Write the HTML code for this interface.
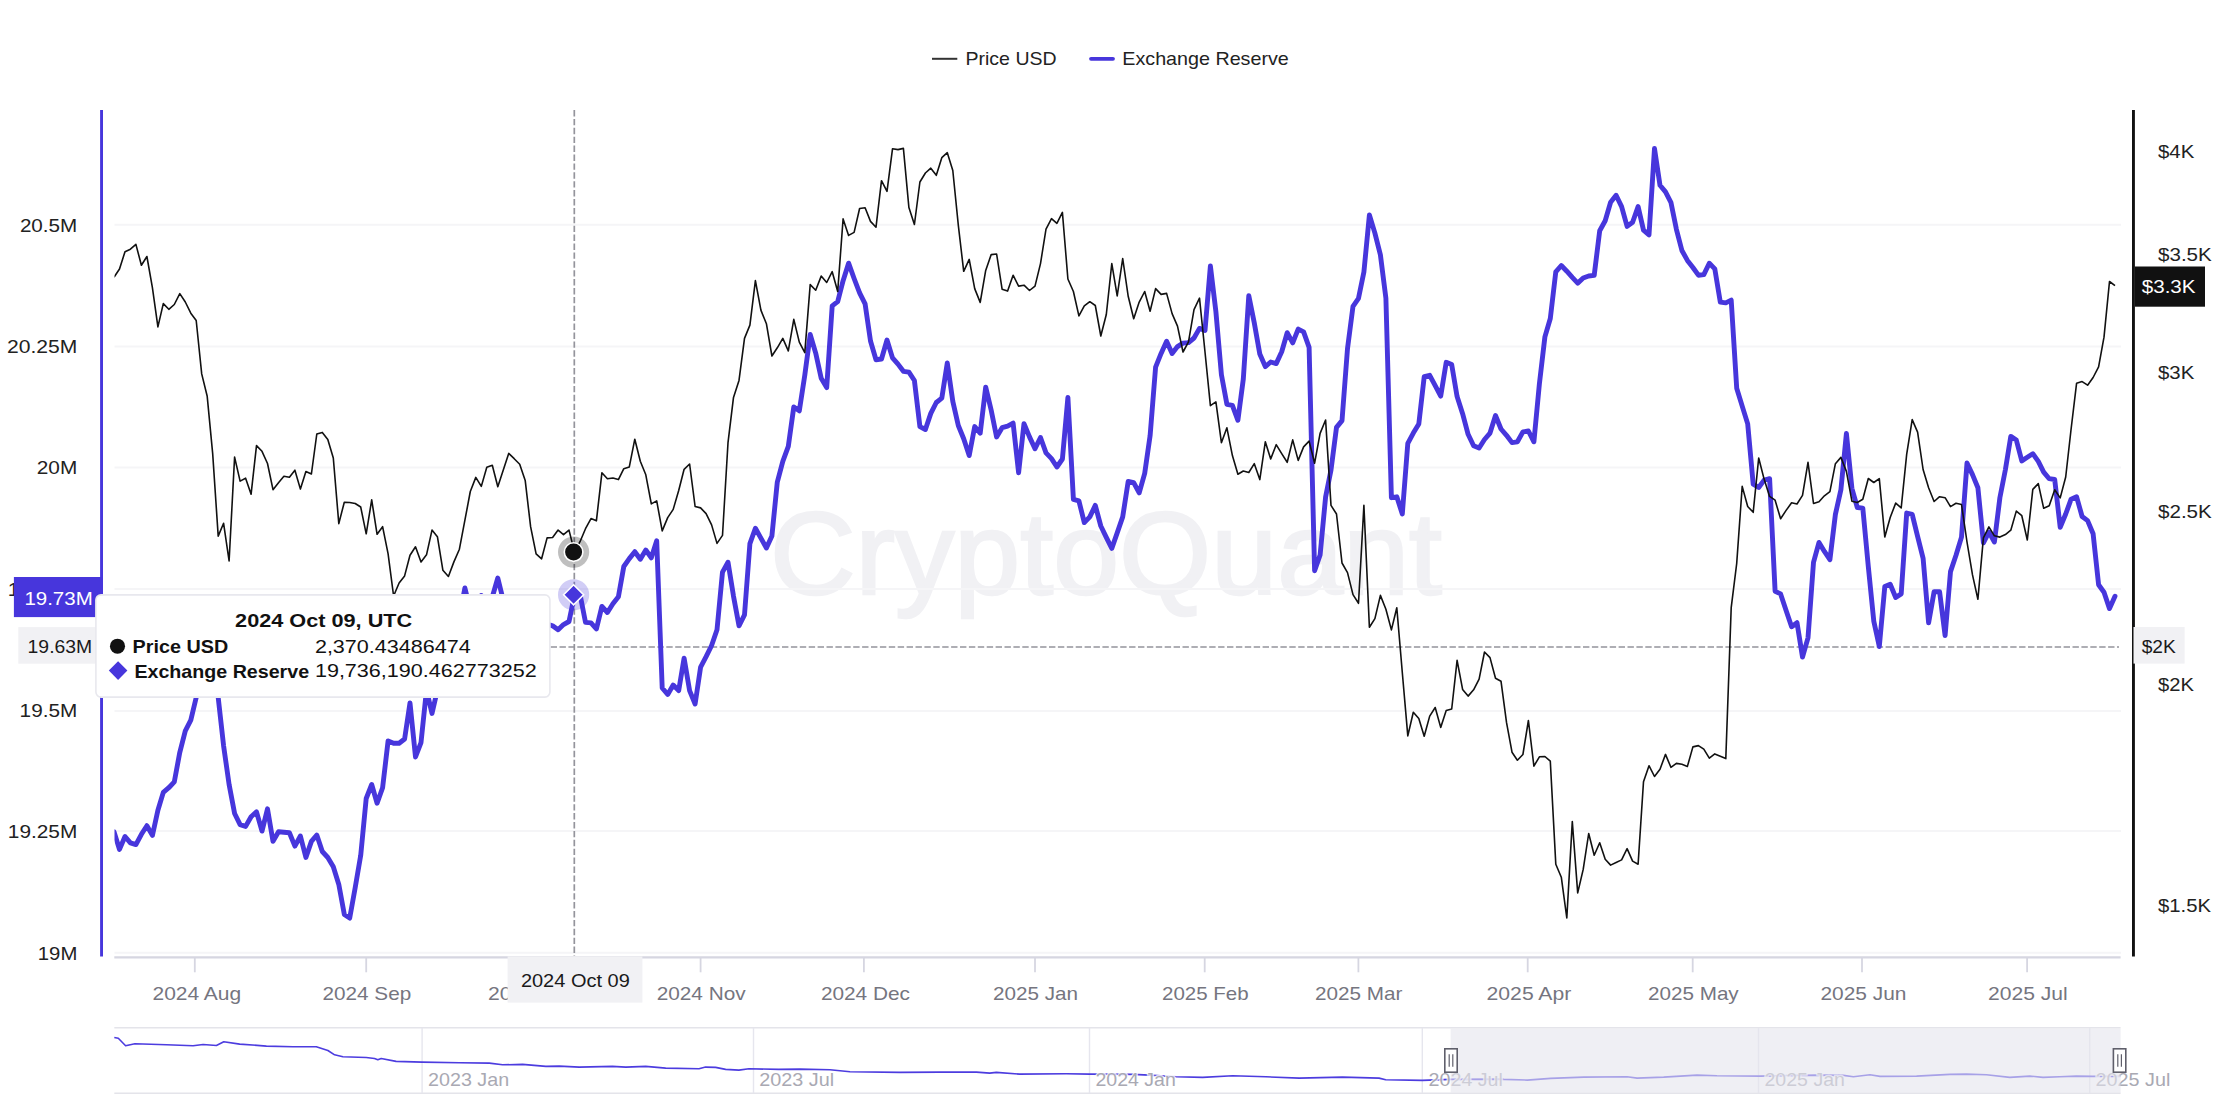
<!DOCTYPE html>
<html><head><meta charset="utf-8"><title>Exchange Reserve</title>
<style>
html,body{margin:0;padding:0;background:#fff;}
body{width:2224px;height:1094px;overflow:hidden;font-family:"Liberation Sans",sans-serif;}
svg{display:block;font-family:"Liberation Sans",sans-serif;}
</style></head><body>
<svg width="2224" height="1094" viewBox="0 0 2224 1094">
<defs>
<clipPath id="plot"><rect x="114.5" y="100" width="2006.5" height="860"/></clipPath>
</defs>
<rect width="2224" height="1094" fill="#fff"/>

<text x="770" y="593.5" font-size="116" fill="#f1f1f4" stroke="#f1f1f4" stroke-width="2.5" textLength="672" lengthAdjust="spacingAndGlyphs">CryptoQuant</text>
<line x1="114.5" x2="2121" y1="224.7" y2="224.7" stroke="#f5f5f7" stroke-width="2"/>
<line x1="114.5" x2="2121" y1="346.5" y2="346.5" stroke="#f5f5f7" stroke-width="2"/>
<line x1="114.5" x2="2121" y1="467.5" y2="467.5" stroke="#f5f5f7" stroke-width="2"/>
<line x1="114.5" x2="2121" y1="589" y2="589" stroke="#f5f5f7" stroke-width="2"/>
<line x1="114.5" x2="2121" y1="711" y2="711" stroke="#f5f5f7" stroke-width="2"/>
<line x1="114.5" x2="2121" y1="831" y2="831" stroke="#f5f5f7" stroke-width="2"/>
<line x1="114.5" x2="2121" y1="952.7" y2="952.7" stroke="#f5f5f7" stroke-width="2"/>
<line x1="114.3" x2="2120.6" y1="957.3" y2="957.3" stroke="#d6d6e1" stroke-width="2.2"/>
<line x1="194.8" x2="194.8" y1="957.3" y2="972.3" stroke="#d6d6e1" stroke-width="1.8"/>
<line x1="366.2" x2="366.2" y1="957.3" y2="972.3" stroke="#d6d6e1" stroke-width="1.8"/>
<line x1="530.8" x2="530.8" y1="957.3" y2="972.3" stroke="#d6d6e1" stroke-width="1.8"/>
<line x1="700.6" x2="700.6" y1="957.3" y2="972.3" stroke="#d6d6e1" stroke-width="1.8"/>
<line x1="863.9" x2="863.9" y1="957.3" y2="972.3" stroke="#d6d6e1" stroke-width="1.8"/>
<line x1="1035" x2="1035" y1="957.3" y2="972.3" stroke="#d6d6e1" stroke-width="1.8"/>
<line x1="1204.7" x2="1204.7" y1="957.3" y2="972.3" stroke="#d6d6e1" stroke-width="1.8"/>
<line x1="1358.4" x2="1358.4" y1="957.3" y2="972.3" stroke="#d6d6e1" stroke-width="1.8"/>
<line x1="1527.7" x2="1527.7" y1="957.3" y2="972.3" stroke="#d6d6e1" stroke-width="1.8"/>
<line x1="1692.7" x2="1692.7" y1="957.3" y2="972.3" stroke="#d6d6e1" stroke-width="1.8"/>
<line x1="1862" x2="1862" y1="957.3" y2="972.3" stroke="#d6d6e1" stroke-width="1.8"/>
<line x1="2027.1" x2="2027.1" y1="957.3" y2="972.3" stroke="#d6d6e1" stroke-width="1.8"/>
<line x1="932" x2="957.3" y1="58.8" y2="58.8" stroke="#333" stroke-width="2"/>
<text x="965.5" y="65" font-size="19.24" fill="#222" font-weight="normal" textLength="91.1" lengthAdjust="spacingAndGlyphs">Price USD</text>
<line x1="1091" x2="1113" y1="58.8" y2="58.8" stroke="#4736dc" stroke-width="3.8" stroke-linecap="round"/>
<text x="1122.3" y="65" font-size="19.24" fill="#222" font-weight="normal" textLength="166.5" lengthAdjust="spacingAndGlyphs">Exchange Reserve</text>
<text x="19.9" y="231.8" font-size="19.24" fill="#222" font-weight="normal" textLength="57.4" lengthAdjust="spacingAndGlyphs">20.5M</text>
<text x="7.0" y="353.3" font-size="19.24" fill="#222" font-weight="normal" textLength="70.3" lengthAdjust="spacingAndGlyphs">20.25M</text>
<text x="36.8" y="474.4" font-size="19.24" fill="#222" font-weight="normal" textLength="40.5" lengthAdjust="spacingAndGlyphs">20M</text>
<text x="7.8" y="595.8" font-size="19.24" fill="#222" font-weight="normal" textLength="69.5" lengthAdjust="spacingAndGlyphs">19.75M</text>
<text x="19.6" y="717.4" font-size="19.24" fill="#222" font-weight="normal" textLength="57.7" lengthAdjust="spacingAndGlyphs">19.5M</text>
<text x="7.8" y="838.2" font-size="19.24" fill="#222" font-weight="normal" textLength="69.5" lengthAdjust="spacingAndGlyphs">19.25M</text>
<text x="37.8" y="959.8" font-size="19.24" fill="#222" font-weight="normal" textLength="39.5" lengthAdjust="spacingAndGlyphs">19M</text>
<text x="2158.0" y="158.0" font-size="19.24" fill="#222" font-weight="normal" textLength="36.3" lengthAdjust="spacingAndGlyphs">$4K</text>
<text x="2158.0" y="261.2" font-size="19.24" fill="#222" font-weight="normal" textLength="53.8" lengthAdjust="spacingAndGlyphs">$3.5K</text>
<text x="2158.0" y="379.4" font-size="19.24" fill="#222" font-weight="normal" textLength="36.3" lengthAdjust="spacingAndGlyphs">$3K</text>
<text x="2158.0" y="518.4" font-size="19.24" fill="#222" font-weight="normal" textLength="53.8" lengthAdjust="spacingAndGlyphs">$2.5K</text>
<text x="2158.0" y="690.8" font-size="19.24" fill="#222" font-weight="normal" textLength="35.9" lengthAdjust="spacingAndGlyphs">$2K</text>
<text x="2158.0" y="912.0" font-size="19.24" fill="#222" font-weight="normal" textLength="53.0" lengthAdjust="spacingAndGlyphs">$1.5K</text>
<text x="152.5" y="1000.4" font-size="19.24" fill="#75757f" font-weight="normal" textLength="88.7" lengthAdjust="spacingAndGlyphs">2024 Aug</text>
<text x="322.6" y="1000.4" font-size="19.24" fill="#75757f" font-weight="normal" textLength="88.6" lengthAdjust="spacingAndGlyphs">2024 Sep</text>
<text x="487.9" y="1000.4" font-size="19.24" fill="#75757f" font-weight="normal" textLength="85.9" lengthAdjust="spacingAndGlyphs">2024 Oct</text>
<text x="656.7" y="1000.4" font-size="19.24" fill="#75757f" font-weight="normal" textLength="89.0" lengthAdjust="spacingAndGlyphs">2024 Nov</text>
<text x="820.9" y="1000.4" font-size="19.24" fill="#75757f" font-weight="normal" textLength="89.1" lengthAdjust="spacingAndGlyphs">2024 Dec</text>
<text x="993.0" y="1000.4" font-size="19.24" fill="#75757f" font-weight="normal" textLength="85.0" lengthAdjust="spacingAndGlyphs">2025 Jan</text>
<text x="1162.0" y="1000.4" font-size="19.24" fill="#75757f" font-weight="normal" textLength="86.7" lengthAdjust="spacingAndGlyphs">2025 Feb</text>
<text x="1315.1" y="1000.4" font-size="19.24" fill="#75757f" font-weight="normal" textLength="87.4" lengthAdjust="spacingAndGlyphs">2025 Mar</text>
<text x="1486.6" y="1000.4" font-size="19.24" fill="#75757f" font-weight="normal" textLength="84.7" lengthAdjust="spacingAndGlyphs">2025 Apr</text>
<text x="1648.0" y="1000.4" font-size="19.24" fill="#75757f" font-weight="normal" textLength="90.7" lengthAdjust="spacingAndGlyphs">2025 May</text>
<text x="1820.4" y="1000.4" font-size="19.24" fill="#75757f" font-weight="normal" textLength="86.0" lengthAdjust="spacingAndGlyphs">2025 Jun</text>
<text x="1988.1" y="1000.4" font-size="19.24" fill="#75757f" font-weight="normal" textLength="79.7" lengthAdjust="spacingAndGlyphs">2025 Jul</text>
<line x1="574.3" x2="574.3" y1="110" y2="956" stroke="#94949c" stroke-width="1.7" stroke-dasharray="6.4,2.5"/>
<line x1="114.5" x2="2119" y1="647" y2="647" stroke="#94949c" stroke-width="1.7" stroke-dasharray="6.4,2.5"/>
<g clip-path="url(#plot)"><polyline points="114.0,831.8 119.5,849.4 125.0,836.5 130.4,842.9 135.9,844.6 141.4,834.3 146.9,825.7 152.4,835.4 157.9,810.3 163.3,792.4 168.8,787.7 174.3,781.9 179.8,752.3 185.3,730.8 190.8,720.1 196.2,697.5 201.7,672.0 207.2,640.0 212.7,668.0 218.2,697.5 223.6,745.8 229.1,784.5 234.6,813.5 240.1,824.7 245.6,826.4 251.1,816.7 256.5,811.8 262.0,831.1 267.5,808.8 273.0,841.4 278.5,831.8 283.9,832.2 289.4,832.8 294.9,846.1 300.4,836.0 305.9,857.5 311.4,841.4 316.8,835.0 322.3,851.5 327.8,857.5 333.3,866.8 338.8,884.4 344.3,914.4 349.7,918.1 355.2,887.6 360.7,855.4 366.2,798.5 371.7,784.5 377.1,803.2 382.6,787.7 388.1,740.9 393.6,743.3 399.1,743.3 404.6,739.0 410.0,702.9 415.5,757.0 421.0,742.6 426.5,690.0 432.0,713.4 437.4,690.0 442.9,660.0 448.4,640.0 453.9,628.0 459.4,617.0 464.9,588.0 470.3,610.0 475.8,606.0 481.3,595.5 486.8,607.0 492.3,597.0 497.8,578.0 503.2,600.0 508.7,615.0 514.2,622.0 519.7,612.0 525.2,625.0 530.6,618.0 536.1,628.0 541.6,620.0 547.1,624.0 552.6,625.8 558.1,629.8 563.5,624.6 569.0,621.5 574.5,595.1 580.0,594.2 585.5,622.4 591.0,622.9 596.4,629.0 601.9,606.4 607.4,612.5 612.9,603.8 618.4,596.8 623.8,566.5 629.3,558.6 634.8,551.7 640.3,559.2 645.8,550.0 651.3,557.8 656.7,540.8 662.2,688.0 667.7,694.4 673.2,685.0 678.7,690.6 684.1,658.1 689.6,690.6 695.1,704.0 700.6,667.2 706.1,656.7 711.6,645.5 717.0,629.8 722.5,572.1 728.0,562.2 733.5,596.2 739.0,625.8 744.5,614.9 749.9,543.6 755.4,528.2 760.9,538.1 766.4,548.0 771.9,535.9 777.3,482.1 782.8,461.3 788.3,446.4 793.8,406.9 799.3,410.8 804.8,375.1 810.2,334.5 815.7,353.1 821.2,378.3 826.7,387.6 832.2,305.9 837.7,301.6 843.1,280.7 848.6,263.2 854.1,278.5 859.6,292.8 865.1,303.8 870.5,341.0 876.0,359.7 881.5,359.0 887.0,340.0 892.5,357.9 898.0,364.1 903.4,371.3 908.9,372.2 914.4,380.5 919.9,426.6 925.4,429.5 930.8,413.4 936.3,402.5 941.8,398.1 947.3,363.0 952.8,401.4 958.3,425.5 963.7,438.7 969.2,455.6 974.7,426.6 980.2,433.2 985.7,387.1 991.2,410.2 996.6,436.9 1002.1,427.7 1007.6,426.1 1013.1,423.1 1018.6,472.7 1024.0,423.6 1029.5,436.9 1035.0,448.7 1040.5,437.5 1046.0,452.9 1051.5,458.6 1056.9,467.0 1062.4,459.0 1067.9,397.5 1073.4,499.3 1078.9,500.9 1084.3,522.6 1089.8,516.9 1095.3,505.4 1100.8,526.0 1106.3,537.4 1111.8,548.4 1117.2,532.9 1122.7,516.9 1128.2,481.4 1133.7,482.6 1139.2,492.9 1144.7,473.4 1150.1,435.7 1155.6,367.1 1161.1,353.4 1166.6,341.3 1172.1,353.4 1177.5,346.6 1183.0,343.1 1188.5,342.6 1194.0,338.0 1199.5,328.4 1205.0,330.5 1210.4,266.0 1215.9,311.7 1221.4,374.6 1226.9,404.3 1232.4,405.4 1237.9,420.3 1243.3,379.1 1248.8,295.7 1254.3,323.1 1259.8,354.0 1265.3,366.6 1270.7,362.0 1276.2,363.6 1281.7,351.7 1287.2,332.7 1292.7,342.9 1298.2,329.1 1303.6,331.9 1309.1,347.4 1314.6,570.7 1320.1,555.0 1325.6,497.0 1331.0,470.0 1336.5,427.4 1342.0,420.6 1347.5,348.6 1353.0,306.3 1358.5,298.3 1363.9,272.0 1369.4,214.9 1374.9,233.1 1380.4,254.9 1385.9,298.3 1391.4,497.7 1396.8,496.8 1402.3,514.0 1407.8,443.4 1413.3,433.1 1418.8,424.0 1424.2,376.7 1429.7,375.3 1435.2,385.6 1440.7,396.1 1446.2,362.3 1451.7,364.6 1457.1,396.6 1462.6,413.7 1468.1,434.3 1473.6,445.7 1479.1,448.0 1484.5,439.5 1490.0,433.1 1495.5,415.5 1501.0,429.0 1506.5,435.3 1512.0,442.6 1517.4,441.8 1522.9,431.9 1528.4,431.0 1533.9,441.8 1539.4,383.7 1544.9,336.9 1550.3,318.5 1555.8,271.8 1561.3,265.5 1566.8,271.2 1572.3,277.4 1577.7,283.1 1583.2,278.0 1588.7,276.0 1594.2,275.4 1599.7,230.7 1605.2,220.8 1610.6,202.3 1616.1,195.3 1621.6,206.6 1627.1,226.4 1632.6,222.2 1638.1,206.6 1643.5,230.1 1649.0,234.9 1654.5,148.5 1660.0,185.3 1665.5,191.9 1670.9,202.3 1676.4,229.3 1681.9,250.5 1687.4,260.4 1692.9,267.5 1698.4,275.2 1703.8,274.6 1709.3,263.3 1714.8,268.9 1720.3,302.1 1725.8,302.9 1731.2,300.1 1736.7,388.2 1742.2,406.1 1747.7,423.9 1753.2,484.2 1758.7,487.5 1764.1,480.1 1769.6,478.7 1775.1,591.2 1780.6,593.9 1786.1,610.4 1791.6,626.8 1797.0,622.7 1802.5,657.0 1808.0,637.8 1813.5,562.4 1819.0,542.4 1824.4,551.4 1829.9,559.6 1835.4,514.4 1840.9,489.7 1846.4,433.5 1851.9,488.3 1857.3,507.5 1862.8,508.1 1868.3,566.5 1873.8,621.3 1879.3,646.6 1884.8,586.5 1890.2,584.3 1895.7,597.5 1901.2,593.9 1906.7,513.0 1912.2,514.4 1917.6,536.3 1923.1,558.3 1928.6,622.7 1934.1,591.7 1939.6,591.7 1945.1,635.6 1950.5,571.6 1956.0,555.2 1961.5,537.1 1967.0,463.0 1972.5,474.6 1977.9,487.7 1983.4,542.8 1988.9,532.1 1994.4,542.0 1999.9,497.6 2005.4,469.6 2010.8,436.4 2016.3,440.0 2021.8,460.9 2027.3,457.3 2032.8,453.7 2038.3,461.4 2043.7,472.1 2049.2,478.7 2054.7,479.5 2060.2,527.2 2065.7,514.0 2071.1,499.2 2076.6,496.8 2082.1,516.5 2087.6,520.6 2093.1,533.8 2098.6,584.8 2104.0,592.2 2109.5,608.6 2115.0,596.3" fill="none" stroke="#4736dc" stroke-width="4.9" stroke-linejoin="round" stroke-linecap="round"/>
<polyline points="114.0,277.3 119.5,269.0 125.0,251.7 130.4,249.2 135.9,244.4 141.4,265.2 146.9,256.5 152.4,287.6 157.9,326.9 163.3,303.6 168.8,309.3 174.3,304.5 179.8,293.6 185.3,302.0 190.8,313.2 196.2,320.5 201.7,373.9 207.2,396.3 212.7,453.9 218.2,536.1 223.6,523.3 229.1,561.0 234.6,457.1 240.1,481.1 245.6,478.2 251.1,494.2 256.5,445.6 262.0,451.3 267.5,463.5 273.0,489.7 278.5,482.7 283.9,476.3 289.4,477.2 294.9,470.2 300.4,489.1 305.9,471.5 311.4,474.0 316.8,434.0 322.3,432.4 327.8,439.5 333.3,458.0 338.8,523.6 344.3,502.2 349.7,502.5 355.2,503.5 360.7,507.0 366.2,533.8 371.7,499.9 377.1,534.3 382.6,526.7 388.1,553.8 393.6,596.0 399.1,583.0 404.6,575.9 410.0,555.2 415.5,546.8 421.0,561.9 426.5,554.8 432.0,530.1 437.4,536.7 442.9,570.3 448.4,576.5 453.9,561.9 459.4,549.2 464.9,520.2 470.3,491.5 475.8,477.4 481.3,486.4 486.8,467.3 492.3,465.3 497.8,486.8 503.2,470.3 508.7,453.4 514.2,458.7 519.7,464.3 525.2,480.4 530.6,526.7 536.1,553.8 541.6,558.8 547.1,537.9 552.6,537.5 558.1,530.1 563.5,534.7 569.0,530.1 574.5,552.0 580.0,541.7 585.5,528.7 591.0,518.6 596.4,520.8 601.9,472.8 607.4,478.8 612.9,478.0 618.4,479.6 623.8,468.7 629.3,466.9 634.8,439.2 640.3,461.3 645.8,474.8 651.3,503.9 656.7,500.9 662.2,530.9 667.7,517.6 673.2,509.4 678.7,490.5 684.1,469.3 689.6,464.0 695.1,506.5 700.6,507.9 706.1,513.6 711.6,524.9 717.0,543.4 722.5,535.4 728.0,442.7 733.5,397.4 739.0,380.4 744.5,338.4 749.9,325.1 755.4,280.6 760.9,310.1 766.4,323.7 771.9,356.0 777.3,347.8 782.8,338.4 788.3,350.9 793.8,319.4 799.3,342.1 804.8,352.6 810.2,284.6 815.7,290.2 821.2,276.1 826.7,282.5 832.2,271.7 837.7,291.5 843.1,218.9 848.6,235.4 854.1,232.4 859.6,208.5 865.1,207.8 870.5,221.4 876.0,227.2 881.5,180.7 887.0,191.3 892.5,148.8 898.0,149.6 903.4,148.4 908.9,207.6 914.4,224.5 919.9,182.0 925.4,173.0 930.8,168.2 936.3,175.3 941.8,157.7 947.3,152.7 952.8,170.5 958.3,225.2 963.7,271.3 969.2,259.4 974.7,288.6 980.2,302.4 985.7,270.4 991.2,254.6 996.6,254.0 1002.1,289.2 1007.6,291.1 1013.1,275.2 1018.6,286.1 1024.0,285.2 1029.5,290.5 1035.0,286.1 1040.5,263.6 1046.0,229.1 1051.5,218.7 1056.9,223.3 1062.4,212.4 1067.9,279.0 1073.4,291.5 1078.9,315.9 1084.3,305.9 1089.8,301.7 1095.3,305.5 1100.8,336.0 1106.3,314.5 1111.8,263.6 1117.2,295.9 1122.7,258.5 1128.2,296.3 1133.7,318.8 1139.2,302.1 1144.7,291.5 1150.1,311.3 1155.6,288.6 1161.1,294.4 1166.6,293.4 1172.1,313.6 1177.5,326.1 1183.0,352.0 1188.5,341.8 1194.0,309.7 1199.5,298.2 1205.0,352.0 1210.4,405.7 1215.9,401.9 1221.4,442.7 1226.9,427.8 1232.4,455.6 1237.9,474.2 1243.3,471.0 1248.8,472.5 1254.3,463.7 1259.8,479.6 1265.3,441.8 1270.7,458.9 1276.2,444.7 1281.7,453.7 1287.2,462.3 1292.7,439.9 1298.2,460.4 1303.6,446.9 1309.1,441.1 1314.6,463.2 1320.1,433.4 1325.6,420.0 1331.0,505.4 1336.5,514.0 1342.0,563.0 1347.5,572.6 1353.0,594.6 1358.5,603.3 1363.9,505.4 1369.4,627.3 1374.9,618.6 1380.4,595.4 1385.9,609.2 1391.4,629.9 1396.8,607.7 1402.3,672.5 1407.8,735.9 1413.3,712.2 1418.8,718.6 1424.2,736.2 1429.7,716.1 1435.2,707.5 1440.7,727.4 1446.2,710.5 1451.7,709.0 1457.1,660.4 1462.6,689.4 1468.1,696.1 1473.6,689.8 1479.1,679.2 1484.5,652.0 1490.0,657.6 1495.5,678.3 1501.0,681.2 1506.5,722.4 1512.0,752.2 1517.4,760.2 1522.9,754.5 1528.4,720.5 1533.9,766.1 1539.4,756.8 1544.9,756.5 1550.3,761.2 1555.8,864.2 1561.3,877.2 1566.8,918.0 1572.3,821.6 1577.7,892.9 1583.2,869.4 1588.7,833.5 1594.2,855.2 1599.7,842.8 1605.2,859.3 1610.6,865.1 1616.1,862.5 1621.6,859.9 1627.1,848.6 1632.6,861.1 1638.1,864.2 1643.5,781.7 1649.0,765.7 1654.5,776.5 1660.0,769.2 1665.5,754.4 1670.9,767.3 1676.4,763.4 1681.9,764.3 1687.4,766.4 1692.9,746.9 1698.4,745.6 1703.8,749.2 1709.3,758.2 1714.8,753.9 1720.3,756.2 1725.8,758.6 1731.2,607.7 1736.7,563.5 1742.2,486.4 1747.7,506.5 1753.2,512.3 1758.7,458.0 1764.1,479.1 1769.6,496.4 1775.1,500.2 1780.6,518.8 1786.1,510.4 1791.6,502.7 1797.0,504.0 1802.5,495.4 1808.0,462.4 1813.5,503.5 1819.0,501.7 1824.4,495.8 1829.9,491.6 1835.4,463.7 1840.9,457.4 1846.4,471.4 1851.9,501.2 1857.3,502.5 1862.8,499.2 1868.3,478.5 1873.8,482.5 1879.3,478.7 1884.8,537.0 1890.2,517.5 1895.7,503.1 1901.2,507.9 1906.7,454.1 1912.2,419.6 1917.6,432.1 1923.1,469.5 1928.6,487.7 1934.1,501.5 1939.6,496.7 1945.1,497.7 1950.5,506.6 1956.0,503.3 1961.5,504.5 1967.0,542.0 1972.5,574.9 1977.9,599.3 1983.4,537.9 1988.9,526.9 1994.4,535.8 1999.9,537.1 2005.4,534.6 2010.8,530.2 2016.3,511.1 2021.8,515.7 2027.3,540.0 2032.8,489.4 2038.3,483.6 2043.7,508.3 2049.2,505.8 2054.7,489.7 2060.2,497.9 2065.7,477.0 2071.1,429.0 2076.6,383.2 2082.1,381.6 2087.6,385.2 2093.1,377.5 2098.6,366.8 2104.0,337.2 2109.5,281.5 2115.0,285.6" fill="none" stroke="#111" stroke-width="1.6" stroke-linejoin="round"/></g>
<rect x="100.1" y="110" width="2.9" height="846.5" fill="#4736dc"/>
<rect x="2132" y="110" width="2.9" height="846.5" fill="#111"/>
<circle cx="573.6" cy="552.1" r="15.6" fill="#000" fill-opacity="0.25"/>
<circle cx="573.6" cy="552.1" r="9.3" fill="#111" stroke="#fff" stroke-width="1.6"/>
<circle cx="573.6" cy="594.8" r="15.6" fill="#4736dc" fill-opacity="0.25"/>
<path d="M573.6 584.8 L583.6 594.8 L573.6 604.8 L563.6 594.8 Z" fill="#4736dc" stroke="#fff" stroke-width="1.6"/>
<rect x="13.9" y="577" width="88" height="40.1" fill="#4736dc"/>
<text x="24.4" y="604.6" font-size="19.24" fill="#fff" font-weight="normal" textLength="68.3" lengthAdjust="spacingAndGlyphs">19.73M</text>
<rect x="18.3" y="627.1" width="80" height="36.6" fill="#f1f1f4"/>
<text x="27.6" y="652.8" font-size="17.68" fill="#1a1a1a" font-weight="normal" textLength="64.6" lengthAdjust="spacingAndGlyphs">19.63M</text>
<rect x="2134.9" y="266.5" width="70.1" height="40.2" fill="#111"/>
<text x="2141.7" y="293.3" font-size="19.24" fill="#fff" font-weight="normal" textLength="53.9" lengthAdjust="spacingAndGlyphs">$3.3K</text>
<rect x="2133.5" y="627" width="51.1" height="36.6" fill="#f1f1f4"/>
<text x="2141.7" y="652.8" font-size="17.68" fill="#1a1a1a" font-weight="normal" textLength="34.1" lengthAdjust="spacingAndGlyphs">$2K</text>
<rect x="507.6" y="956.4" width="134.8" height="46.2" fill="#f1f1f4"/>
<text x="520.9" y="987.1" font-size="17.68" fill="#1a1a1a" font-weight="normal" textLength="108.9" lengthAdjust="spacingAndGlyphs">2024 Oct 09</text>
<rect x="95.9" y="594.9" width="454" height="102.2" rx="5" fill="#fff" stroke="#e8e8ee" stroke-width="1.6"/>
<text x="235.1" y="627.1" font-size="19.24" fill="#111" font-weight="bold" textLength="177.1" lengthAdjust="spacingAndGlyphs">2024 Oct 09, UTC</text>
<circle cx="117.5" cy="646.2" r="7.55" fill="#111"/>
<text x="132.6" y="653.0" font-size="19.24" fill="#111" font-weight="bold" textLength="95.6" lengthAdjust="spacingAndGlyphs">Price USD</text>
<text x="314.9" y="652.5" font-size="19.24" fill="#111" font-weight="normal" textLength="155.9" lengthAdjust="spacingAndGlyphs">2,370.43486474</text>
<path d="M118.1 661.3 L127.4 670.6 L118.1 679.9 L108.8 670.6 Z" fill="#4736dc"/>
<text x="134.4" y="677.8" font-size="19.24" fill="#111" font-weight="bold" textLength="174.7" lengthAdjust="spacingAndGlyphs">Exchange Reserve</text>
<text x="314.9" y="677.3" font-size="19.24" fill="#111" font-weight="normal" textLength="221.9" lengthAdjust="spacingAndGlyphs">19,736,190.462773252</text>
<line x1="114.3" x2="2120.6" y1="1027.8" y2="1027.8" stroke="#e4e4ea" stroke-width="1.6"/>
<line x1="114.3" x2="2120.6" y1="1093.3" y2="1093.3" stroke="#e4e4ea" stroke-width="1.6"/>
<line x1="422.1" x2="422.1" y1="1028" y2="1093" stroke="#e6e6ee" stroke-width="1.4"/>
<line x1="753.5" x2="753.5" y1="1028" y2="1093" stroke="#e6e6ee" stroke-width="1.4"/>
<line x1="1089.5" x2="1089.5" y1="1028" y2="1093" stroke="#e6e6ee" stroke-width="1.4"/>
<line x1="1422.3" x2="1422.3" y1="1028" y2="1093" stroke="#e6e6ee" stroke-width="1.4"/>
<line x1="1758.5" x2="1758.5" y1="1028" y2="1093" stroke="#e6e6ee" stroke-width="1.4"/>
<line x1="2089.7" x2="2089.7" y1="1028" y2="1093" stroke="#e6e6ee" stroke-width="1.4"/>
<polyline points="114.3,1037.5 118.3,1038.2 125.6,1045.8 134.9,1043.8 166.5,1044.8 193.1,1045.8 203.1,1044.5 216.4,1045.5 223.8,1041.8 239.7,1044.1 266.4,1046.1 293.0,1046.8 316.3,1046.8 327.9,1050.5 334.6,1054.8 342.9,1056.8 366.2,1057.5 374.5,1058.5 377.8,1059.8 381.2,1058.5 396.1,1061.4 422.1,1062.1 459.4,1062.8 489.3,1063.1 502.6,1064.8 522.6,1064.4 545.9,1066.4 559.2,1066.1 579.2,1067.1 612.4,1066.4 625.8,1067.1 645.7,1066.4 665.7,1068.1 699.0,1068.8 705.6,1067.1 715.6,1067.4 725.6,1069.4 738.9,1070.1 748.9,1068.8 778.8,1069.4 800.0,1069.1 830.0,1069.8 850.0,1071.8 900.0,1072.4 939.8,1072.1 976.4,1072.1 989.7,1073.1 996.3,1072.4 1019.6,1074.1 1066.2,1073.8 1089.5,1074.1 1132.8,1074.4 1149.4,1075.1 1176.0,1076.8 1202.7,1077.4 1232.6,1075.8 1265.9,1076.8 1299.2,1078.1 1342.4,1077.1 1379.0,1078.1 1385.7,1079.8 1422.3,1080.4 1450.6,1079.4 1498.8,1079.1 1504.0,1079.4 1527.3,1080.1 1550.6,1078.4 1583.8,1077.1 1627.1,1076.8 1637.1,1078.1 1663.7,1077.1 1697.0,1075.1 1717.0,1075.8 1760.2,1076.1 1816.8,1075.1 1843.4,1075.4 1853.4,1076.8 1870.0,1074.8 1880.0,1076.4 1916.6,1076.1 1949.9,1074.4 1966.5,1074.1 1986.5,1074.8 2009.8,1077.4 2029.8,1076.1 2043.0,1077.4 2059.7,1076.8 2076.3,1076.1 2093.0,1076.4 2120.6,1076.4" fill="none" stroke="#4c3cdf" stroke-width="1.6" stroke-linejoin="round"/>
<text x="428.0" y="1086.2" font-size="18.2" fill="#a9a9b3" font-weight="normal" textLength="81.1" lengthAdjust="spacingAndGlyphs" stroke="#fff" stroke-width="2.5" paint-order="stroke" stroke-opacity="0.8">2023 Jan</text>
<text x="759.2" y="1086.2" font-size="18.2" fill="#a9a9b3" font-weight="normal" textLength="74.9" lengthAdjust="spacingAndGlyphs" stroke="#fff" stroke-width="2.5" paint-order="stroke" stroke-opacity="0.8">2023 Jul</text>
<text x="1095.5" y="1086.2" font-size="18.2" fill="#a9a9b3" font-weight="normal" textLength="80.3" lengthAdjust="spacingAndGlyphs" stroke="#fff" stroke-width="2.5" paint-order="stroke" stroke-opacity="0.8">2024 Jan</text>
<text x="1428.6" y="1086.2" font-size="18.2" fill="#a9a9b3" font-weight="normal" textLength="74.3" lengthAdjust="spacingAndGlyphs" stroke="#fff" stroke-width="2.5" paint-order="stroke" stroke-opacity="0.8">2024 Jul</text>
<text x="1764.5" y="1086.2" font-size="18.2" fill="#a9a9b3" font-weight="normal" textLength="80.4" lengthAdjust="spacingAndGlyphs" stroke="#fff" stroke-width="2.5" paint-order="stroke" stroke-opacity="0.8">2025 Jan</text>
<text x="2095.6" y="1086.2" font-size="18.2" fill="#a9a9b3" font-weight="normal" textLength="74.7" lengthAdjust="spacingAndGlyphs" stroke="#fff" stroke-width="2.5" paint-order="stroke" stroke-opacity="0.8">2025 Jul</text>
<rect x="1450.6" y="1028.6" width="670" height="64" fill="#e4e4ed" fill-opacity="0.6"/>
<rect x="1444.8" y="1048.8" width="12.4" height="23.4" fill="#fff" stroke="#5f5f6b" stroke-width="1.6"/>
<line x1="1449.2" x2="1449.2" y1="1054.3" y2="1066.7" stroke="#5f5f6b" stroke-width="1.2"/>
<line x1="1452.8" x2="1452.8" y1="1054.3" y2="1066.7" stroke="#5f5f6b" stroke-width="1.2"/>
<rect x="2113.4" y="1048.8" width="12.4" height="23.4" fill="#fff" stroke="#5f5f6b" stroke-width="1.6"/>
<line x1="2117.7999999999997" x2="2117.7999999999997" y1="1054.3" y2="1066.7" stroke="#5f5f6b" stroke-width="1.2"/>
<line x1="2121.4" x2="2121.4" y1="1054.3" y2="1066.7" stroke="#5f5f6b" stroke-width="1.2"/>
</svg></body></html>
